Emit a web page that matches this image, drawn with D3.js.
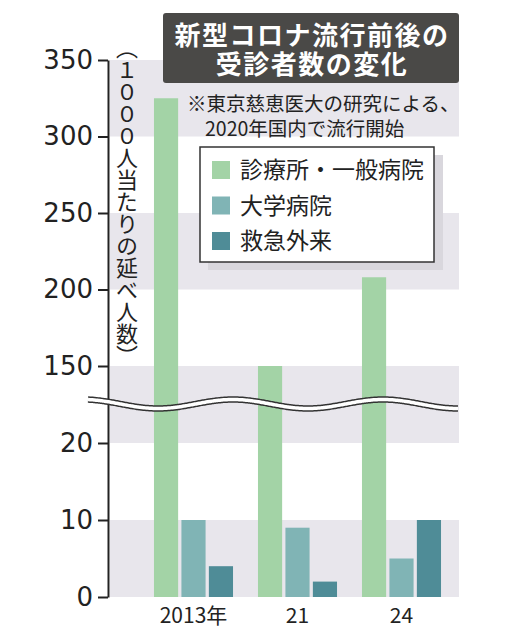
<!DOCTYPE html>
<html>
<head>
<meta charset="utf-8">
<script src="https://cdn.jsdelivr.net/npm/d3@7"></script>
<style>
  body { margin: 0; background: #fff; }
  svg { display: block; }
</style>
</head>
<body>
<svg width="507" height="640"></svg>
<script>
// data
const years = ["2013", "21", "24"];
const yearLabels = ["2013年", "21", "24"];
const series = ["診療所・一般病院", "大学病院", "救急外来"];
const clinic = [325, 150, 208];
const univ = [10, 9, 5];
const emergency = [4, 2, 10];
const tickValues = [0, 10, 20, 150, 200, 250, 300, 350];
const bandPairs = [[0, 10], [20, 150], [200, 250], [300, 350]];
const titleLines = ["新型コロナ流行前後の", "受診者数の変化"];
const noteLines = ["※東京慈恵医大の研究による、", "2020年国内で流行開始"];
const yTitle = "（１０００人当たりの延べ人数）";

const colors = ["#a3d3a6", "#80b4b5", "#4f8c97"];
const jp = "'Noto Sans CJK JP', sans-serif";

const rows = years.map((y, i) => ({year: y, label: yearLabels[i], values: [clinic[i], univ[i], emergency[i]]}));

const svg = d3.select("svg");

// broken axis: polylinear scale
const y = d3.scaleLinear()
    .domain([0, 20, 150, 350])
    .range([597, 443, 366, 60]);

const plotLeft = 110, plotRight = 459;

const x0 = d3.scaleBand()
    .domain(years)
    .range([141.5, 453.5])
    .paddingInner(0.24)
    .paddingOuter(0.12);

const x1 = d3.scaleBand()
    .domain(series)
    .range([0, x0.bandwidth()])
    .paddingInner(0.12);

// gray bands
svg.append("g").selectAll("rect").data(bandPairs).enter().append("rect")
    .attr("x", plotLeft)
    .attr("width", plotRight - plotLeft)
    .attr("y", d => y(d[1]))
    .attr("height", d => y(d[0]) - y(d[1]))
    .attr("fill", "#e8e6ec");

// bars
const groups = svg.append("g").selectAll("g").data(rows).enter().append("g")
    .attr("transform", d => `translate(${x0(d.year)},0)`);

groups.selectAll("rect").data(d => d.values.map((v, i) => ({s: series[i], v: v, i: i})))
    .enter().append("rect")
    .attr("x", d => x1(d.s))
    .attr("width", x1.bandwidth())
    .attr("y", d => y(d.v))
    .attr("height", d => y(0) - y(d.v))
    .attr("fill", d => colors[d.i]);

// x labels
svg.append("g").selectAll("text").data(rows).enter().append("text")
    .attr("x", d => x0(d.year) + x1(series[1]) + x1.bandwidth() / 2)
    .attr("y", 623)
    .attr("text-anchor", "middle")
    .attr("font-family", jp)
    .attr("font-size", 21)
    .attr("fill", "#222")
    .text(d => d.label);

// y axis
const yAxis = svg.append("g")
    .attr("transform", "translate(108,0)")
    .call(d3.axisLeft(y).tickValues(tickValues).tickSize(10).tickSizeOuter(0).tickPadding(5).tickFormat(d3.format("d")));
yAxis.select(".domain").attr("stroke", "#222").attr("stroke-width", 2);
yAxis.selectAll(".tick line").attr("stroke", "#222").attr("stroke-width", 2);
yAxis.selectAll(".tick text")
    .attr("font-family", "'DejaVu Sans', sans-serif")
    .attr("font-size", 26)
    .attr("fill", "#222");

// wave break
const wave = d3.range(88, 460, 2).map(px => [px, 404 - 4.5 * Math.cos(2 * Math.PI * (px - 233) / 150)]);
const waveLine = d3.line().curve(d3.curveBasis);
svg.append("path").attr("d", waveLine(wave)).attr("fill", "none").attr("stroke", "#333").attr("stroke-width", 6.5);
svg.append("path").attr("d", waveLine(wave)).attr("fill", "none").attr("stroke", "#fff").attr("stroke-width", 3.5);

// vertical y title
svg.append("text")
    .attr("x", 127)
    .attr("y", 37)
    .style("writing-mode", "vertical-rl")
    .attr("font-family", jp)
    .attr("font-size", 22)
    .attr("fill", "#222")
    .text(yTitle);

// title box
svg.append("rect")
    .attr("x", 163).attr("y", 13)
    .attr("width", 296).attr("height", 70)
    .attr("rx", 3)
    .attr("fill", "#4a4947");
svg.append("text")
    .attr("text-anchor", "middle")
    .attr("font-family", jp)
    .attr("font-weight", "bold")
    .attr("font-size", 26)
    .attr("letter-spacing", 1.5)
    .attr("fill", "#fff")
  .selectAll("tspan").data(titleLines).enter().append("tspan")
    .attr("x", 312)
    .attr("y", (d, i) => 45 + i * 29)
    .text(d => d);

// note
svg.append("text")
    .attr("font-family", jp)
    .attr("font-size", 19.5)
    .attr("fill", "#222")
  .selectAll("tspan").data(noteLines).enter().append("tspan")
    .attr("x", (d, i) => i === 0 ? 187 : 205)
    .attr("y", (d, i) => 111 + i * 25)
    .text(d => d);

// legend
const lg = svg.append("g");
lg.append("rect").attr("x", 208).attr("y", 155).attr("width", 235).attr("height", 115).attr("fill", "#d9d7dd");
lg.append("rect").attr("x", 200).attr("y", 147).attr("width", 234).attr("height", 115)
    .attr("fill", "#fff").attr("stroke", "#333").attr("stroke-width", 1.5);
const items = lg.selectAll("g").data(series).enter().append("g")
    .attr("transform", (d, i) => `translate(212,${170 + i * 35.5})`);
items.append("rect").attr("x", 0).attr("y", -9).attr("width", 18).attr("height", 18)
    .attr("fill", (d, i) => colors[i]);
items.append("text").attr("x", 28).attr("y", 8)
    .attr("font-family", jp)
    .attr("font-size", 23)
    .attr("fill", "#222")
    .text(d => d);
</script>
</body>
</html>
